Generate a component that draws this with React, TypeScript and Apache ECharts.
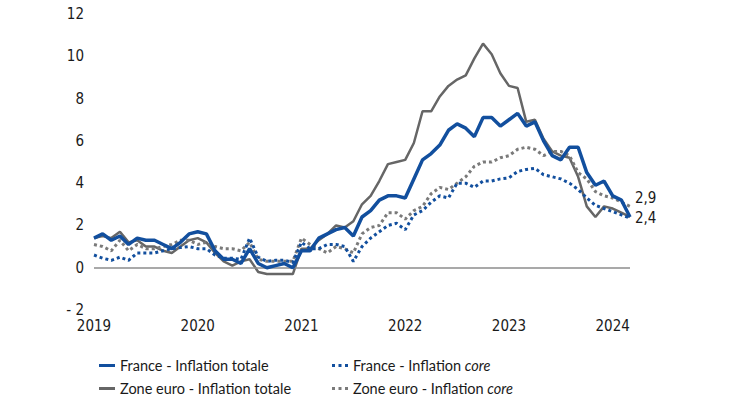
import React, { useEffect, useRef } from "react";
import * as echarts from "echarts";

const years = ["2019", "2020", "2021", "2022", "2023", "2024"];
const monthsLastYear = 3;

const franceTotale = [
  1.4, 1.6, 1.3, 1.5, 1.1, 1.4, 1.3, 1.3, 1.1, 0.9, 1.2, 1.6,
  1.7, 1.6, 0.8, 0.4, 0.4, 0.2, 0.9, 0.2, 0.0, 0.1, 0.2, 0.0,
  0.8, 0.8, 1.4, 1.6, 1.8, 1.9, 1.5, 2.4, 2.7, 3.2, 3.4, 3.4,
  3.3, 4.2, 5.1, 5.4, 5.8, 6.5, 6.8, 6.6, 6.2, 7.1, 7.1, 6.7,
  7.0, 7.3, 6.7, 6.9, 6.0, 5.3, 5.1, 5.7, 5.7, 4.5, 3.9, 4.1,
  3.4, 3.2, 2.4,
];
const zoneTotale = [
  1.4, 1.5, 1.4, 1.7, 1.2, 1.3, 1.0, 1.0, 0.8, 0.7, 1.0, 1.3,
  1.4, 1.2, 0.7, 0.3, 0.1, 0.3, 0.4, -0.2, -0.3, -0.3, -0.3, -0.3,
  0.9, 0.9, 1.3, 1.6, 2.0, 1.9, 2.2, 3.0, 3.4, 4.1, 4.9, 5.0,
  5.1, 5.9, 7.4, 7.4, 8.1, 8.6, 8.9, 9.1, 9.9, 10.6, 10.1, 9.2,
  8.6, 8.5, 6.9, 7.0, 6.1, 5.5, 5.3, 5.2, 4.3, 2.9, 2.4, 2.9,
  2.8, 2.6, 2.4,
];
const franceCore = [
  0.6, 0.45, 0.35, 0.5, 0.35, 0.7, 0.7, 0.7, 0.8, 0.9, 0.95, 1.0,
  0.9, 0.9, 0.6, 0.45, 0.45, 0.4, 1.4, 0.5, 0.3, 0.35, 0.35, 0.25,
  1.2, 0.9, 0.9, 1.1, 1.1, 1.0, 0.3, 1.0, 1.4, 1.7, 2.0, 2.1,
  1.8, 2.5, 2.7, 3.1, 3.4, 3.3, 4.0, 4.0, 3.8, 4.1, 4.1, 4.2,
  4.25, 4.55, 4.65, 4.7, 4.4, 4.3, 4.2, 4.0, 3.7, 3.3, 2.95, 2.8,
  2.65, 2.5, 2.35,
];
const zoneCore = [
  1.1, 1.0, 0.8, 1.3, 0.8, 1.1, 0.9, 0.9, 1.0, 1.1, 1.3, 1.3,
  1.1, 1.2, 1.0, 0.9, 0.9, 0.8, 1.2, 0.4, 0.3, 0.3, 0.3, 0.3,
  1.4, 1.1, 0.9, 0.7, 1.0, 0.9, 0.7, 1.6, 1.9, 2.0, 2.6, 2.6,
  2.3, 2.7, 2.9, 3.5, 3.8, 3.7, 4.0, 4.3, 4.8, 5.0, 5.0, 5.2,
  5.3, 5.6, 5.7, 5.6, 5.3, 5.5, 5.5, 5.3, 4.5, 4.2, 3.6, 3.4,
  3.3, 3.1, 2.9,
];
const endLabels = { zoneCore: "2,9", franceTotale: "2,4" };
const yTicks = { min: -2, max: 12, interval: 2 };

const categories: string[] = [];
years.forEach((y, i) => {
  const n = i === years.length - 1 ? monthsLastYear : 12;
  for (let m = 1; m <= n; m++) categories.push(y + "-" + (m < 10 ? "0" + m : m));
});

const BLUE = "#124f9e";
const GREY = "#666666";
const GREY_DOT = "#7a7a7a";
const AXIS_FONT = "'Liberation Sans Narrow', 'DejaVu Sans Condensed', sans-serif";
const LEGEND_FONT = "Lato, 'Open Sans', sans-serif";
const SOLID_ICON = "path://M0,0h16v3h-16z";
const DOT_ICON = "path://M0,0h3v3h-3z M6.5,0h3v3h-3z M13,0h3v3h-3z";

export default function App() {
  const ref = useRef<HTMLDivElement>(null);
  useEffect(() => {
    document.body.style.margin = "0";
    const chart = echarts.init(ref.current!, null, { renderer: "svg" });
    const legendText = {
      fontFamily: LEGEND_FONT,
      fontSize: 14.5,
      lineHeight: 14,
      color: "#1a1a1a",
      rich: {
        n: { fontFamily: LEGEND_FONT, fontSize: 14.5, lineHeight: 14, color: "#1a1a1a" },
        i: { fontFamily: LEGEND_FONT, fontSize: 14.5, lineHeight: 14, color: "#1a1a1a", fontStyle: "italic" },
      },
    };
    const legendFormatter = (name: string) =>
      name.endsWith("core") ? "{n|" + name.slice(0, -4) + "}{i|core}" : name;
    const endLabel = (text: string, offset: number[]) => ({
      show: true,
      formatter: text,
      distance: 5,
      offset,
      fontFamily: AXIS_FONT,
      fontSize: 15,
      color: "#1a1a1a",
    });
    chart.setOption({
      animation: false,
      grid: { left: 94, right: 100, top: 14, bottom: 100 },
      legend: [
        {
          orient: "vertical",
          left: 94,
          top: 353,
          itemWidth: 16,
          itemHeight: 3,
          itemGap: 8,
          textStyle: legendText,
          formatter: legendFormatter,
          data: [
            { name: "France - Inflation totale", icon: SOLID_ICON },
            { name: "Zone euro - Inflation totale", icon: SOLID_ICON },
          ],
        },
        {
          orient: "vertical",
          left: 327,
          top: 353,
          itemWidth: 16,
          itemHeight: 3,
          itemGap: 8,
          textStyle: legendText,
          formatter: legendFormatter,
          data: [
            { name: "France - Inflation core", icon: DOT_ICON },
            { name: "Zone euro - Inflation core", icon: DOT_ICON },
          ],
        },
      ],
      xAxis: {
        type: "category",
        data: categories,
        boundaryGap: false,
        axisLine: { show: false },
        axisTick: { show: false },
        splitLine: { show: false },
        axisLabel: {
          interval: (idx: number) => idx % 12 === 0,
          formatter: (v: string) => v.slice(0, 4),
          fontFamily: AXIS_FONT,
          fontSize: 15,
          color: "#1a1a1a",
          margin: 8,
        },
      },
      yAxis: {
        type: "value",
        min: yTicks.min,
        max: yTicks.max,
        interval: yTicks.interval,
        axisLine: { show: false },
        axisTick: { show: false },
        splitLine: { show: false },
        axisLabel: {
          formatter: (v: number) => (v < 0 ? "- " + Math.abs(v) : String(v)),
          fontFamily: AXIS_FONT,
          fontSize: 15,
          color: "#1a1a1a",
          margin: 10,
        },
      },
      series: [
        {
          name: "Zone euro - Inflation totale",
          type: "line",
          data: zoneTotale,
          symbol: "none",
          lineStyle: { color: GREY, width: 2.5 },
          itemStyle: { color: GREY },
          markLine: {
            silent: true,
            symbol: "none",
            label: { show: false },
            lineStyle: { color: "#8c8c8c", width: 1.5, type: "solid" },
            data: [{ yAxis: 0 }],
          },
          z: 2,
        },
        {
          name: "Zone euro - Inflation core",
          type: "line",
          data: zoneCore,
          symbol: "none",
          lineStyle: { color: GREY_DOT, width: 3, type: [3, 3] },
          itemStyle: { color: GREY_DOT },
          endLabel: endLabel(endLabels.zoneCore, [0, -8]),
          z: 3,
        },
        {
          name: "France - Inflation core",
          type: "line",
          data: franceCore,
          symbol: "none",
          lineStyle: { color: BLUE, width: 3, type: [3, 3] },
          itemStyle: { color: BLUE },
          z: 4,
        },
        {
          name: "France - Inflation totale",
          type: "line",
          data: franceTotale,
          symbol: "none",
          lineStyle: { color: BLUE, width: 3.5 },
          itemStyle: { color: BLUE },
          endLabel: endLabel(endLabels.franceTotale, [0, 1]),
          z: 5,
        },
      ],
    });
    return () => chart.dispose();
  }, []);
  return <div ref={ref} style={{ width: 730, height: 410 }} />;
}
